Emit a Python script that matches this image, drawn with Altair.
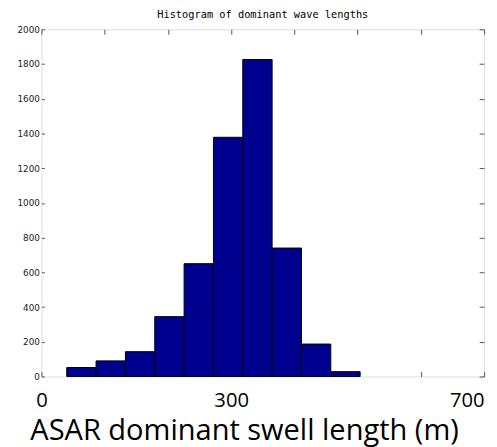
import altair as alt
import pandas as pd

bin_start = [40, 86.4, 132.8, 179.2, 225.6, 272, 318.4, 364.8, 411.2, 457.6]
bin_end = [86.4, 132.8, 179.2, 225.6, 272, 318.4, 364.8, 411.2, 457.6, 504]
counts = [52, 90, 143, 345, 650, 1378, 1826, 740, 187, 28]

x_ticks = [0, 100, 200, 300, 400, 500, 600, 700]
y_ticks = list(range(0, 2001, 200))

df = pd.DataFrame({"start": bin_start, "end": bin_end, "count": counts})
df["base"] = 0

xscale = alt.Scale(domain=[0, 700], nice=False, zero=False, padding=0)
yscale = alt.Scale(domain=[0, 2000], nice=False, padding=0)

bars = alt.Chart(df).mark_bar(
    color="#00008F", stroke="#000000", strokeWidth=1, opacity=1
).encode(
    x=alt.X("start:Q", scale=xscale,
            axis=alt.Axis(orient="bottom", values=x_ticks, offset=-5, tickSize=5,
                          domain=False, grid=False, tickColor="#555555",
                          labelExpr="(datum.value == 0 || datum.value == 300 || datum.value == 700) ? datum.label : ''",
                          labelAlign={"condition": {"test": "datum.value >= 700", "value": "right"}, "value": "center"},
                          labelBaseline="alphabetic",
                          labelFont="Open Sans", labelFontSize=20.5, labelColor="#000000",
                          labelPadding=30, labelOverlap=False, labelBound=False, labelFlush=False,
                          title="ASAR dominant swell length (m)", titleFont="Open Sans",
                          titleFontSize=29.5, titleFontWeight="normal", titleColor="#000000",
                          titleBaseline="alphabetic", titleY=69, titleX=206,
                          titleAlign="center", titleAnchor="start")),
    x2="end:Q",
    y=alt.Y("count:Q", scale=yscale,
            axis=alt.Axis(orient="left", values=y_ticks, offset=-3, tickSize=3,
                          domain=False, grid=False, tickColor="#555555", format="d",
                          labelFont="DejaVu Sans", labelFontSize=9, labelColor="#222222",
                          labelPadding=2, title=None)),
    y2="base:Q",
)

frame = alt.Chart(df).mark_bar(opacity=0).encode(
    x=alt.X("start:Q", scale=xscale,
            axis=alt.Axis(orient="top", values=x_ticks, offset=-5, tickSize=5,
                          domain=False, grid=False, labels=False, tickColor="#555555",
                          title=None)),
    x2="end:Q",
    y=alt.Y("count:Q", scale=yscale,
            axis=alt.Axis(orient="right", values=y_ticks, offset=-5, tickSize=5,
                          domain=False, grid=False, labels=False, tickColor="#555555",
                          title=None)),
    y2="base:Q",
)

chart = alt.layer(bars, frame).resolve_axis(
    x="independent", y="independent"
).properties(
    width=450,
    height=353,
    autosize=alt.AutoSizeParams(type="none"),
    padding={"left": 34, "top": 18, "right": 5, "bottom": 68},
    title=alt.TitleParams(
        "Histogram of dominant wave lengths",
        font="DejaVu Sans Mono", fontSize=10.5, fontWeight="normal",
        color="#000000", anchor="middle", offset=5,
    ),
).configure_view(
    stroke="#a0a0a0", strokeWidth=1.5
).configure(background="#ffffff")

chart.save("out.html", embed_options={"renderer": "svg", "actions": False})
